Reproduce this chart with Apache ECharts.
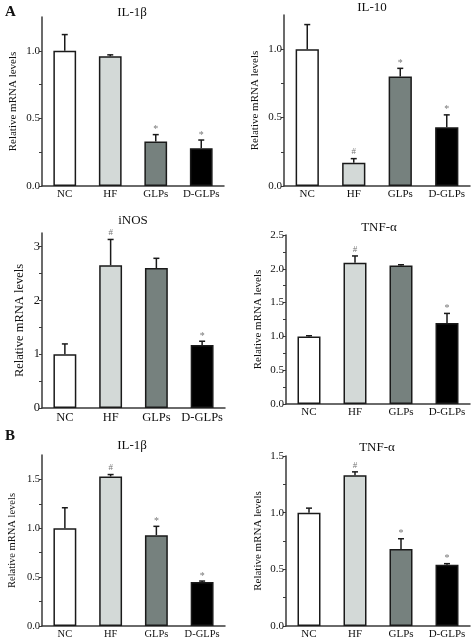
<!DOCTYPE html>
<html>
<head>
<meta charset="utf-8">
<script src="https://cdn.jsdelivr.net/npm/echarts@6/dist/echarts.min.js"></script>
<style>html,body{margin:0;padding:0;background:#fff;}#c{width:474px;height:642px;}</style>
</head>
<body>
<div id="c"></div>
<script>
// ---------- DATA ----------
const categories = ['NC', 'HF', 'GLPs', 'D-GLPs'];
const panelTitles = ['IL-1β', 'IL-10', 'iNOS', 'TNF-α', 'IL-1β', 'TNF-α'];
const yAxisName = 'Relative mRNA levels';

const il1bA = [1.00, 0.96, 0.33, 0.28];
const il1bAErr = [1.12, 0.97, 0.38, 0.34];
const il1bAMarks = ['', '', '*', '*'];

const il10A = [1.00, 0.17, 0.80, 0.43];
const il10AErr = [1.18, 0.20, 0.86, 0.52];
const il10AMarks = ['', '#', '*', '*'];

const inosA = [1.00, 2.65, 2.60, 1.17];
const inosAErr = [1.19, 3.13, 2.78, 1.24];
const inosAMarks = ['', '#', '', '*'];

const tnfA = [1.00, 2.09, 2.05, 1.20];
const tnfAErr = [1.01, 2.19, 2.06, 1.34];
const tnfAMarks = ['', '#', '', '*'];

const il1bB = [1.00, 1.53, 0.93, 0.45];
const il1bBErr = [1.21, 1.55, 1.02, 0.46];
const il1bBMarks = ['', '#', '*', '*'];

const tnfB = [1.00, 1.33, 0.68, 0.54];
const tnfBErr = [1.04, 1.36, 0.77, 0.55];
const tnfBMarks = ['', '#', '*', '*'];

// y-axis ranges and ticks
const yMax = [1.25, 1.25, 3.25, 2.5, 1.75, 1.5];
const yTicksA1 = [0, 0.25, 0.5, 0.75, 1.0];
const yLabelsA1 = [0, 0.5, 1.0];
const yTicksA2 = [0, 0.25, 0.5, 0.75, 1.0];
const yLabelsA2 = [0, 0.5, 1.0];
const yTicksA3 = [0, 0.5, 1, 1.5, 2, 2.5, 3];
const yLabelsA3 = [0, 1, 2, 3];
const yTicksA4 = [0, 0.25, 0.5, 0.75, 1.0, 1.25, 1.5, 1.75, 2.0, 2.25, 2.5];
const yLabelsA4 = [0, 0.5, 1.0, 1.5, 2.0, 2.5];
const yTicksB1 = [0, 0.25, 0.5, 0.75, 1.0, 1.25, 1.5];
const yLabelsB1 = [0, 0.5, 1.0, 1.5];
const yTicksB2 = [0, 0.25, 0.5, 0.75, 1.0, 1.25, 1.5];
const yLabelsB2 = [0, 0.5, 1.0, 1.5];

// ---------- ASSEMBLY ----------
const panelValues = [il1bA, il10A, inosA, tnfA, il1bB, tnfB];
const panelErr = [il1bAErr, il10AErr, inosAErr, tnfAErr, il1bBErr, tnfBErr];
const panelMarks = [il1bAMarks, il10AMarks, inosAMarks, tnfAMarks, il1bBMarks, tnfBMarks];
const panelTicks = [yTicksA1, yTicksA2, yTicksA3, yTicksA4, yTicksB1, yTicksB2];
const panelLabels = [yLabelsA1, yLabelsA2, yLabelsA3, yLabelsA4, yLabelsB1, yLabelsB2];
const panelDecimals = [1, 1, 0, 1, 1, 1];

// layout / style
const layout = [
  {left: 42, top: 17, width: 182, height: 169, font: 11, title: [132, 13], gap: 23},
  {left: 284, top: 15, width: 186, height: 171, font: 11, title: [372, 8], gap: 23},
  {left: 42, top: 233, width: 183, height: 175, font: 12.5, title: [133, 221], gap: 16},
  {left: 286, top: 235, width: 184, height: 169, font: 11, title: [379, 228], gap: 22},
  {left: 42, top: 455, width: 183, height: 171, font: 10.5, title: [132, 446], gap: 24},
  {left: 286, top: 456, width: 184, height: 170, font: 11, title: [377, 448], gap: 22}
];
const barColors = ['#ffffff', '#d3d9d7', '#76817e', '#000000'];
const FONT = '"Liberation Serif", "DejaVu Serif", serif';
const AXIS = '#3a3a3a';

const grids = [], xAxes = [], yAxes = [], series = [], titles = [];

titles.push({text: 'A', left: 5, top: 5, padding: 0,
  textStyle: {fontFamily: FONT, fontSize: 15, fontWeight: 'bold', color: '#111'}});
titles.push({text: 'B', left: 5, top: 429, padding: 0,
  textStyle: {fontFamily: FONT, fontSize: 15, fontWeight: 'bold', color: '#111'}});

layout.forEach((L, i) => {
  grids.push({left: L.left, top: L.top, width: L.width, height: L.height});
  titles.push({
    text: panelTitles[i], left: L.title[0], top: L.title[1] - 7, textAlign: 'center', padding: 0,
    textStyle: {fontFamily: FONT, fontSize: 13, fontWeight: 'normal', color: '#111'}
  });
  xAxes.push({
    type: 'category', gridIndex: i, data: categories,
    axisLine: {lineStyle: {color: AXIS, width: 1.5}},
    axisTick: {show: false},
    axisLabel: {interval: 0, hideOverlap: false, fontFamily: FONT, fontSize: L.font, color: '#111', margin: 3}
  });
  const dec = panelDecimals[i];
  yAxes.push({
    type: 'value', gridIndex: i, min: 0, max: yMax[i],
    name: yAxisName, nameLocation: 'middle', nameGap: L.gap,
    nameTextStyle: {fontFamily: FONT, fontSize: L.font, color: '#111'},
    splitLine: {show: false},
    axisLine: {show: true, lineStyle: {color: AXIS, width: 1.5}},
    axisTick: {show: true, length: 3, customValues: panelTicks[i], lineStyle: {color: AXIS, width: 1}},
    axisLabel: {customValues: panelLabels[i], fontFamily: FONT, fontSize: L.font, color: '#111', margin: 2,
      formatter: v => Number(v).toFixed(dec)}
  });
  series.push({
    type: 'bar', xAxisIndex: i, yAxisIndex: i, barWidth: '50%',
    data: panelValues[i].map((v, k) => ({value: v, itemStyle: {color: barColors[k]}})),
    itemStyle: {borderColor: '#1a1a1a', borderWidth: 1.5},
    silent: true, z: 2
  });
  const marks = panelMarks[i];
  series.push({
    type: 'custom', xAxisIndex: i, yAxisIndex: i, z: 5, silent: true,
    data: panelValues[i].map((v, k) => [k, v, panelErr[i][k]]),
    renderItem: (params, api) => {
      const base = api.coord([api.value(0), api.value(1)]);
      const top = api.coord([api.value(0), api.value(2)]);
      const style = {stroke: '#1a1a1a', lineWidth: 1.5};
      const children = [
        {type: 'line', shape: {x1: base[0], y1: base[1], x2: top[0], y2: top[1]}, style},
        {type: 'line', shape: {x1: top[0] - 3, y1: top[1], x2: top[0] + 3, y2: top[1]}, style}
      ];
      const m = marks[params.dataIndex];
      if (m) {
        children.push({type: 'text', style: {
          text: m, x: top[0], y: top[1] - (m === '*' ? 0 : 2), align: 'center', verticalAlign: 'bottom',
          fill: '#777', font: (m === '*' ? '10px ' : '9px ') + FONT
        }});
      }
      return {type: 'group', children};
    }
  });
});

const chart = echarts.init(document.getElementById('c'), null, {renderer: 'canvas'});
chart.setOption({
  animation: false,
  backgroundColor: '#fff',
  title: titles,
  grid: grids,
  xAxis: xAxes,
  yAxis: yAxes,
  series: series
});
</script>
</body>
</html>
